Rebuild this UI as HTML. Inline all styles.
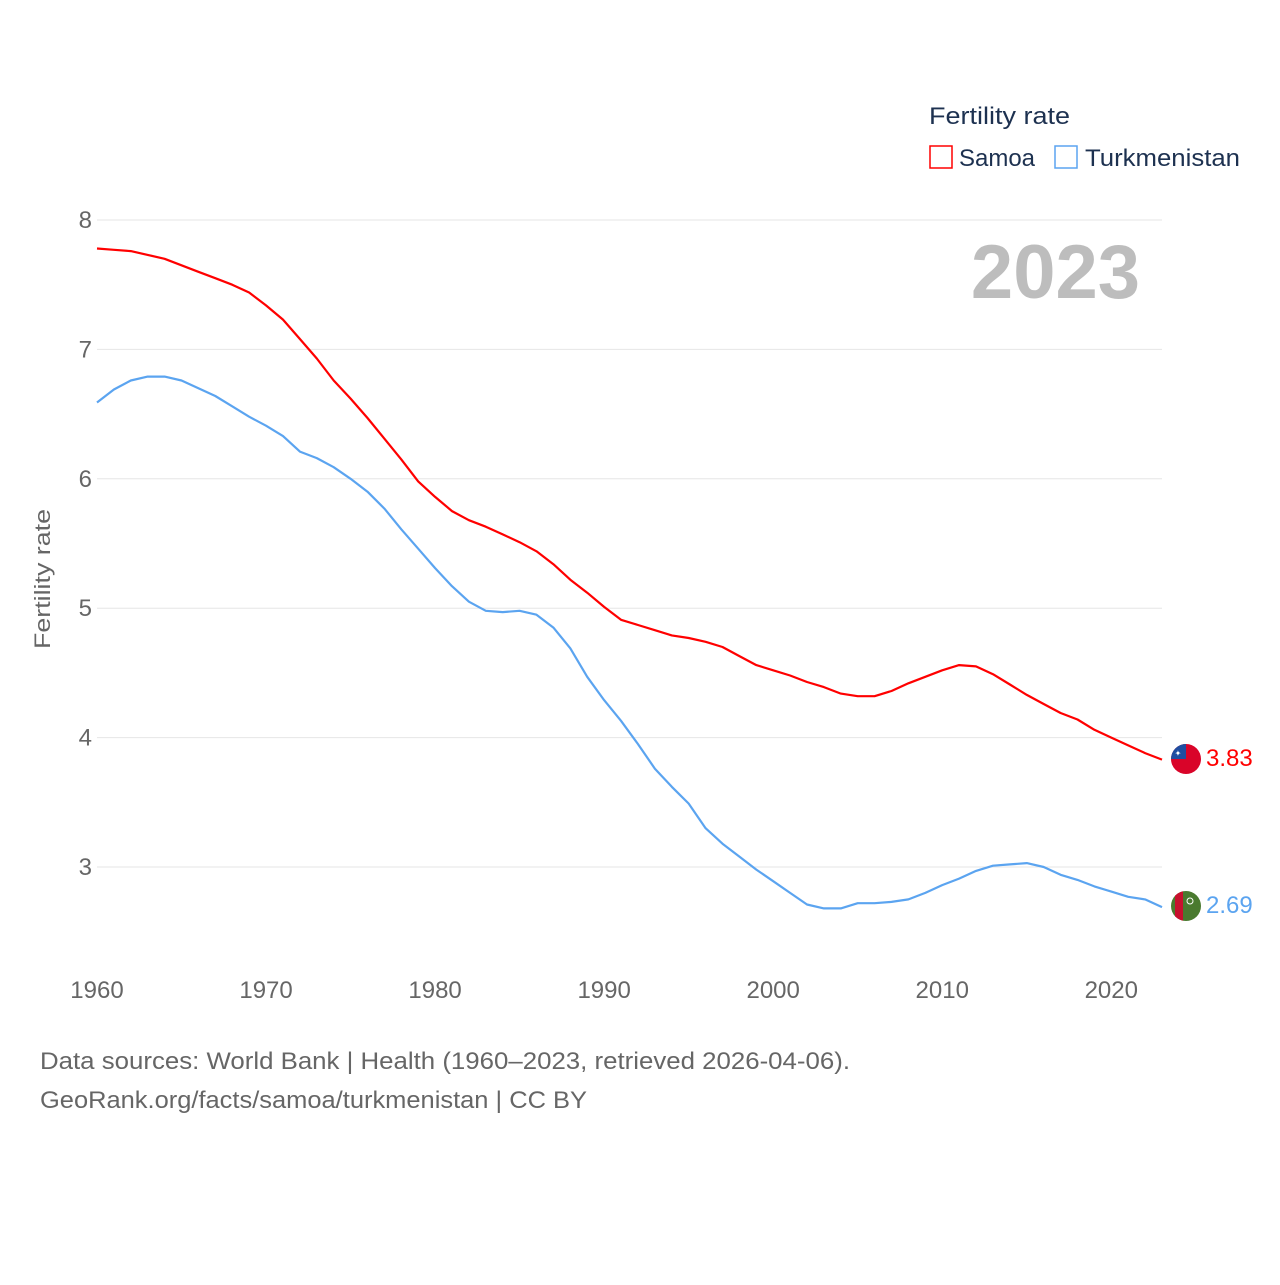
<!DOCTYPE html>
<html><head><meta charset="utf-8">
<style>
body{margin:0;background:#fff;font-family:"Liberation Sans",sans-serif;}
svg text{font-family:"Liberation Sans",sans-serif;}
</style></head>
<body>
<svg id="chart" width="1280" height="1280" viewBox="0 0 1280 1280">
<rect width="1280" height="1280" fill="#fff"/>
<g id="grid"></g>
<g id="yticks"></g>
<g id="xticks"></g>
<text x="50" y="579" transform="rotate(-90 50 579)" text-anchor="middle" font-size="22" fill="#666" textLength="140" lengthAdjust="spacingAndGlyphs">Fertility rate</text>
<text x="1140" y="298" text-anchor="end" font-size="76" font-weight="bold" fill="#bdbdbd">2023</text>
<g>
<text x="929" y="124" font-size="24" fill="#1d3150" textLength="141" lengthAdjust="spacingAndGlyphs">Fertility rate</text>
<g><rect x="930" y="146" width="22" height="22" fill="none" stroke="#ff0000" stroke-width="1.5"/><text x="959" y="166" font-size="24" fill="#1d3150" textLength="76" lengthAdjust="spacingAndGlyphs">Samoa</text></g>
<g><rect x="1055" y="146" width="22" height="22" fill="none" stroke="#5ba4f0" stroke-width="1.5"/><text x="1085" y="166" font-size="24" fill="#1d3150" textLength="155" lengthAdjust="spacingAndGlyphs">Turkmenistan</text></g>
</g>
<g id="series"></g>
<g>
<clipPath id="c1"><circle cx="1186" cy="759" r="15"/></clipPath>
<g clip-path="url(#c1)"><rect x="1171" y="744" width="30" height="30" fill="#d90429"/><rect x="1171" y="744" width="15" height="15" fill="#1f4ea1"/><text x="1178" y="756" font-size="8" fill="#fff" text-anchor="middle">✦</text></g>
</g>
<g>
<clipPath id="c2"><circle cx="1186" cy="906" r="15"/></clipPath>
<g clip-path="url(#c2)"><rect x="1171" y="891" width="30" height="30" fill="#4a7a2f"/><rect x="1175" y="891" width="8" height="30" fill="#c8102e"/><circle cx="1190" cy="901" r="3" fill="none" stroke="#fff" stroke-width="1"/></g>
</g>
<text x="1206" y="766" font-size="24" fill="#ff0000">3.83</text>
<text x="1206" y="913" font-size="24" fill="#5ba4f0">2.69</text>
<text x="40" y="1069" font-size="24" fill="#666" textLength="810" lengthAdjust="spacingAndGlyphs">Data sources: World Bank | Health (1960–2023, retrieved 2026-04-06).</text>
<text x="40" y="1108" font-size="24" fill="#666" textLength="547" lengthAdjust="spacingAndGlyphs">GeoRank.org/facts/samoa/turkmenistan | CC BY</text>
</svg>
<script>
const years=[];for(let y=1960;y<=2023;y++)years.push(y);
const samoa=[7.78,7.77,7.76,7.73,7.70,7.65,7.60,7.55,7.50,7.44,7.34,7.23,7.08,6.93,6.76,6.62,6.47,6.31,6.15,5.98,5.86,5.75,5.68,5.63,5.57,5.51,5.44,5.34,5.22,5.12,5.01,4.91,4.87,4.83,4.79,4.77,4.74,4.70,4.63,4.56,4.52,4.48,4.43,4.39,4.34,4.32,4.32,4.36,4.42,4.47,4.52,4.56,4.55,4.49,4.41,4.33,4.26,4.19,4.14,4.06,4.00,3.94,3.88,3.83];
const turkmenistan=[6.59,6.69,6.76,6.79,6.79,6.76,6.70,6.64,6.56,6.48,6.41,6.33,6.21,6.16,6.09,6.00,5.90,5.77,5.61,5.46,5.31,5.17,5.05,4.98,4.97,4.98,4.95,4.85,4.69,4.47,4.29,4.13,3.95,3.76,3.62,3.49,3.30,3.18,3.08,2.98,2.89,2.80,2.71,2.68,2.68,2.72,2.72,2.73,2.75,2.80,2.86,2.91,2.97,3.01,3.02,3.03,3.00,2.94,2.90,2.85,2.81,2.77,2.75,2.69];
const yTicks=[3,4,5,6,7,8];
const xTicks=[1960,1970,1980,1990,2000,2010,2020];
const NS='http://www.w3.org/2000/svg';
function xs(y){return 97+(y-1960)*(1162-97)/63;}
function ys(v){return 867-(v-3)*129.4;}
function mk(tag,attrs,parent){const e=document.createElementNS(NS,tag);for(const k in attrs)e.setAttribute(k,attrs[k]);parent.appendChild(e);return e;}
const grid=document.getElementById('grid'),yt=document.getElementById('yticks'),xt=document.getElementById('xticks'),ser=document.getElementById('series');
yTicks.forEach(v=>{
 const l=mk('line',{x1:97,x2:1162,y1:ys(v),y2:ys(v),stroke:'#e6e6e6','stroke-width':1},grid);
 
 
 const t=mk('text',{x:92,y:ys(v)+8,'text-anchor':'end','font-size':24,fill:'#666'},yt);
 t.textContent=v;
 
 
});
xTicks.forEach(v=>{
 const t=mk('text',{x:xs(v),y:998,'text-anchor':'middle','font-size':24,fill:'#666'},xt);
 t.textContent=v;
 
 
});
function line(data,color,name){
 const d=data.map((v,i)=>(i?'L':'M')+xs(years[i]).toFixed(1)+' '+ys(v).toFixed(1)).join(' ');
 const p=mk('path',{d:d,fill:'none',stroke:color,'stroke-width':2.2,'stroke-linejoin':'round'},ser);
 
 
}
line(turkmenistan,'#5ba4f0','turkmenistan-line');
line(samoa,'#ff0000','samoa-line');
</script>
</body></html>
